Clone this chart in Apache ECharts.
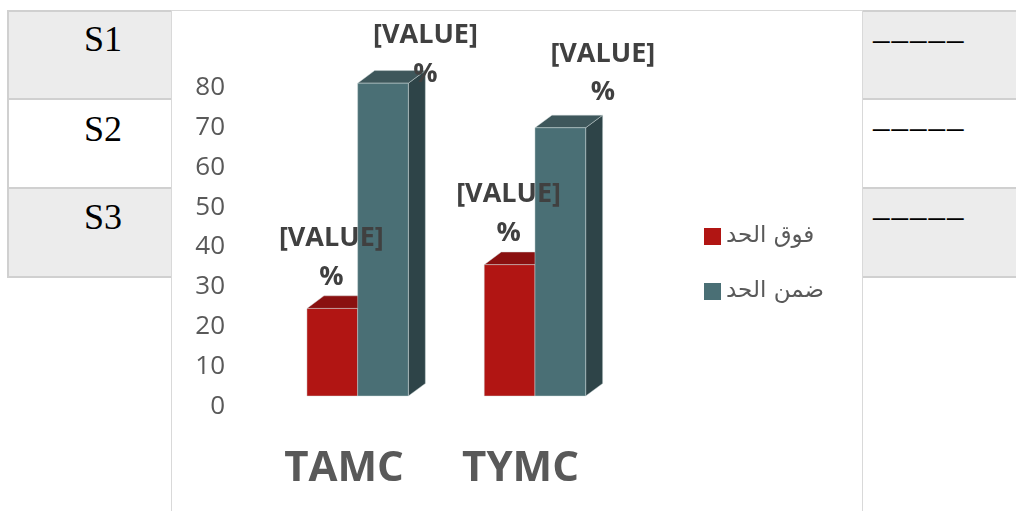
<!DOCTYPE html>
<html>
<head>
<meta charset="utf-8">
<title>TAMC / TYMC</title>
<script src="https://cdn.jsdelivr.net/npm/echarts@6/dist/echarts.min.js"></script>
<style>
  html, body { margin: 0; padding: 0; width: 1016px; height: 511px; overflow: hidden; background: #fff; }
  .row { position: absolute; left: 7px; width: 1030px; box-sizing: border-box;
         border-top: 2px solid #d0d0d0; border-left: 2px solid #d0d0d0; }
  .row.last { border-bottom: 2px solid #d0d0d0; }
  .grey { background: #ececec; }
  .cell { position: absolute; font-family: "Liberation Serif", "Times New Roman", serif; color: #000; white-space: nowrap; }
  .name { left: 84px; font-size: 36px; line-height: 36px; }
  .dash { left: 873px; font-size: 33px; line-height: 33px; letter-spacing: 2px; }
  #panel { position: absolute; left: 171px; top: 10px; width: 692px; height: 520px; box-sizing: border-box;
           background: #fff; border: 1px solid #d9d9d9; }
  #chart { position: absolute; left: 0; top: 0; width: 1016px; height: 511px; }
</style>
</head>
<body>
<div class="row grey" style="top:10px;height:90px"></div>
<div class="row" style="top:98px;height:91px"></div>
<div class="row grey last" style="top:187px;height:91px"></div>
<div class="cell name" style="top:21px">S1</div>
<div class="cell name" style="top:111px">S2</div>
<div class="cell name" style="top:199px">S3</div>
<div class="cell dash" style="top:23px">–––––</div>
<div class="cell dash" style="top:111px">–––––</div>
<div class="cell dash" style="top:200px">–––––</div>
<div id="panel"></div>
<div id="chart"></div>
<script>
// Categories and values (percent)
const categories = ['TAMC', 'TYMC'];
const seriesNames = ['فوق الحد', 'ضمن الحد'];
const aboveLimit = [22, 33];
const withinLimit = [78.6, 67.4];
// Value axis ticks
const yMin = 0;
const yMax = 80;
const yStep = 10;
// Data label text (placeholder fields)
const valueLabelLines = ['[VALUE]', '%'];

// 3D box look
const DEPTH_X = 17;
const DEPTH_Y = 12.6;
const BAR_FRAC = 0.286;
const PANEL_TOP = 10;
const LABEL_LINE = 38.5;

const palette = [
  { front: '#b11513', top: '#8a1010', side: '#6e0c0c', labelDx: -1, labelRise: 31.5 },
  { front: '#4a6f75', top: '#3e575b', side: '#2e4448', labelDx: 42.5, labelRise: 35.4 }
];

function boxRenderer(slot) {
  const c = palette[slot];
  return function (params, api) {
    const cat = api.value(0);
    const val = api.value(1);
    const base = api.coord([cat, 0]);
    const tip = api.coord([cat, val]);
    const w = api.size([1, 0])[0] * BAR_FRAC;
    const x0 = base[0] + (slot - 1) * w;
    const x1 = x0 + w;
    const yb = base[1];
    const yt = tip[1];
    const edge = { stroke: 'rgba(210,220,220,0.55)', lineWidth: 0.8 };
    // two-line label: keep it inside the panel
    let labelTop = yt - c.labelRise - LABEL_LINE * 1.5;
    labelTop = Math.max(labelTop, PANEL_TOP + 6.5);
    return {
      type: 'group',
      children: [
        { type: 'polygon',
          shape: { points: [[x1, yb], [x1 + DEPTH_X, yb - DEPTH_Y], [x1 + DEPTH_X, yt - DEPTH_Y], [x1, yt]] },
          style: Object.assign({ fill: c.side }, edge) },
        { type: 'polygon',
          shape: { points: [[x0, yt], [x1, yt], [x1 + DEPTH_X, yt - DEPTH_Y], [x0 + DEPTH_X, yt - DEPTH_Y]] },
          style: Object.assign({ fill: c.top }, edge) },
        { type: 'rect',
          shape: { x: x0, y: yt, width: w, height: yb - yt },
          style: Object.assign({ fill: c.front }, edge) },
        { type: 'text', z2: 100,
          x: (x0 + x1) / 2 + c.labelDx, y: labelTop,
          style: {
            text: valueLabelLines.join('\n'),
            fill: '#404040',
            fontFamily: 'Open Sans',
            fontWeight: 'bold',
            fontSize: 27,
            lineHeight: LABEL_LINE,
            align: 'center',
            verticalAlign: 'top'
          } }
      ]
    };
  };
}

const seriesValues = [aboveLimit, withinLimit];

const chart = echarts.init(document.getElementById('chart'), null, { renderer: 'canvas' });
chart.setOption({
  animation: false,
  backgroundColor: 'transparent',
  grid: [
    // frame carrying the visible axis labels
    { left: 255.75, top: 87.8, width: 353, height: 318.5 },
    // boxes sit slightly forward of the frame
    { left: 269, top: 77.6, width: 354.6, height: 318.4 }
  ],
  xAxis: [
    { gridIndex: 0, type: 'category', data: categories,
      axisLine: { show: false }, axisTick: { show: false },
      axisLabel: { color: '#595959', fontFamily: 'Open Sans', fontWeight: 'bold',
                   fontSize: 42, lineHeight: 42, margin: 42 } },
    { gridIndex: 1, type: 'category', data: categories, show: false }
  ],
  yAxis: [
    { gridIndex: 0, type: 'value', min: yMin, max: yMax, interval: yStep,
      axisLine: { show: false }, axisTick: { show: false }, splitLine: { show: false },
      axisLabel: { color: '#595959', fontFamily: 'Open Sans', fontSize: 26, margin: 30.75 } },
    { gridIndex: 1, type: 'value', min: yMin, max: yMax, interval: yStep, show: false }
  ],
  legend: {
    orient: 'vertical', left: 704, top: 225, padding: 0,
    itemWidth: 17, itemHeight: 17, itemGap: 32, icon: 'rect',
    data: seriesNames,
    textStyle: { color: '#595959', fontFamily: 'DejaVu Sans', fontSize: 23, lineHeight: 19 }
  },
  series: seriesNames.map((name, i) => ({
    name: name,
    type: 'custom',
    xAxisIndex: 1,
    yAxisIndex: 1,
    encode: { x: 0, y: 1 },
    itemStyle: { color: palette[i].front },
    renderItem: boxRenderer(i),
    data: seriesValues[i].map((v, k) => [k, v])
  }))
});
</script>
</body>
</html>
